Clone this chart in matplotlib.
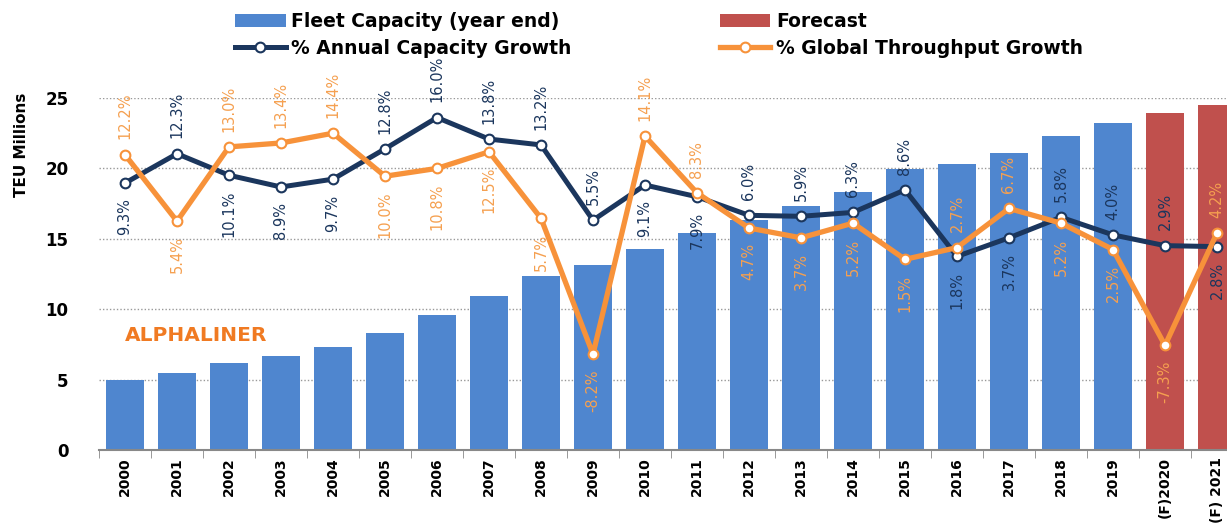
import numpy as np
import matplotlib.pyplot as plt

years = ["2000", "2001", "2002", "2003", "2004", "2005", "2006", "2007",
         "2008", "2009", "2010", "2011", "2012", "2013", "2014", "2015",
         "2016", "2017", "2018", "2019", "(F)2020", "(F) 2021"]
fleet = [4.97, 5.5, 6.15, 6.68, 7.3, 8.3, 9.6, 10.95, 12.35, 13.15,
         14.3, 15.4, 16.35, 17.3, 18.35, 19.95, 20.3, 21.1, 22.3, 23.2]
forecast = [23.9, 24.5]
cap_growth = [9.3, 12.3, 10.1, 8.9, 9.7, 12.8, 16.0, 13.8, 13.2, 5.5, 9.1,
              7.9, 6.0, 5.9, 6.3, 8.6, 1.8, 3.7, 5.8, 4.0, 2.9, 2.8]
thr_growth = [12.2, 5.4, 13.0, 13.4, 14.4, 10.0, 10.8, 12.5, 5.7, -8.2, 14.1,
              8.3, 4.7, 3.7, 5.2, 1.5, 2.7, 6.7, 5.2, 2.5, -7.3, 4.2]
# label above (1) or below (-1) the point
cap_side = [-1, 1, -1, -1, -1, 1, 1, 1, 1, 1, -1, -1, 1, 1, 1, 1, -1, -1, 1, 1, 1, -1]
thr_side = [1, -1, 1, 1, 1, -1, -1, -1, -1, -1, 1, 1, -1, -1, -1, -1, 1, 1, -1, -1, -1, 1]

bar_blue = '#4F86CF'
bar_red = '#C0504D'
navy = '#1B365D'
orange = '#F7923A'
orange_txt = '#F5A050'

fig = plt.figure(figsize=(12.27, 5.23), dpi=100)
ax = fig.add_axes([99 / 1227, 73 / 523, 1144 / 1227, 352 / 523])

x = np.arange(len(years))
n = len(fleet)
b1 = ax.bar(x[:n], fleet, width=0.74, color=bar_blue, zorder=2)
b2 = ax.bar(x[n:], forecast, width=0.74, color=bar_red, zorder=2)

ax.set_xlim(-0.5, len(years) - 0.5)
ax.set_ylim(0, 25)
ax.set_yticks([0, 5, 10, 15, 20, 25])
ax.set_yticklabels(['0', '5', '10', '15', '20', '25'], fontsize=12, fontweight='bold')
ax.tick_params(axis='y', length=0, pad=22)
ax.set_xticks(x)
ax.set_xticklabels(years, rotation=90, fontsize=10, fontweight='bold')
ax.tick_params(axis='x', length=0, pad=5)
ax.set_xticks(np.arange(-0.5, len(years), 1), minor=True)
ax.tick_params(axis='x', which='minor', length=6, color='#888888')
for g in [5, 10, 15, 20, 25]:
    ax.axhline(g, color='#999999', linestyle=(0, (1, 1.5)), linewidth=1, zorder=1)
for s in ['top', 'right', 'left']:
    ax.spines[s].set_visible(False)
ax.spines['bottom'].set_color('#888888')
ax.spines['bottom'].set_linewidth(1.5)

ax.text(0.0, 8.15, 'ALPHALINER', color='#F07A22', fontsize=14.5, fontweight='bold',
        va='center', zorder=3)

ax2 = ax.twinx()
ax2.set_ylim(-18, 18)
ax2.axis('off')
l1, = ax2.plot(x, cap_growth, color=navy, linewidth=3.6, marker='o', markersize=7,
               markerfacecolor='white', markeredgecolor=navy, markeredgewidth=1.5, zorder=3)
l2, = ax2.plot(x, thr_growth, color=orange, linewidth=3.8, marker='o', markersize=7,
               markerfacecolor='white', markeredgecolor=orange, markeredgewidth=1.5, zorder=4)

for xi, v, s in zip(x, cap_growth, cap_side):
    ax2.annotate(f'{v:.1f}%', (xi, v), xytext=(0, 11 * s), textcoords='offset points',
                 rotation=90, ha='center', va='bottom' if s > 0 else 'top',
                 color=navy, fontsize=10.5, annotation_clip=False)
for xi, v, s in zip(x, thr_growth, thr_side):
    ax2.annotate(f'{v:.1f}%', (xi, v), xytext=(0, 11 * s), textcoords='offset points',
                 rotation=90, ha='center', va='bottom' if s > 0 else 'top',
                 color=orange_txt, fontsize=10.5, annotation_clip=False)

fig.text(22 / 1227, 1 - 145 / 523, 'TEU Millions', rotation=90, ha='center', va='center',
         fontsize=11, fontweight='bold')

fig.legend([b1, l1, b2, l2],
           ['Fleet Capacity (year end)', '% Annual Capacity Growth',
            'Forecast', '% Global Throughput Growth'],
           ncol=2, loc='center', bbox_to_anchor=(0.537, 0.933), frameon=False,
           prop={'weight': 'bold', 'size': 13.5}, handlelength=2.7, columnspacing=7.9,
           labelspacing=0.42, handletextpad=0.3, borderpad=0.2)

fig.savefig('out.png', dpi=100)
